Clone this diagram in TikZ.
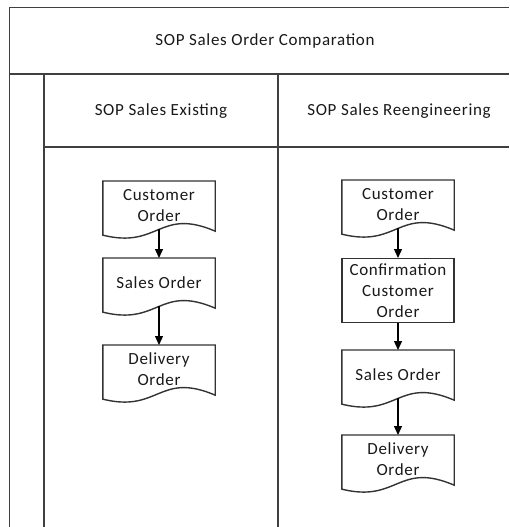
\documentclass[tikz,border=0pt]{standalone}
\usepackage{fontspec}
\setmainfont{Carlito}[LetterSpace=4]
\usetikzlibrary{arrows.meta,calc}

% outline of a flowchart "document" symbol around a named node
\newcommand\docoutline[1]{%
  \draw[black!80, line width=1.4pt, line join=miter]
    ($(#1.south west)+(0,5.75)$) -- (#1.north west) -- (#1.north east)
    -- ($(#1.south east)+(0,1.75)$)
    .. controls ($(#1.south)+(0,-22.25)$) and ($(#1.south)+(0,19.75)$)
    .. ($(#1.south west)+(0,5.75)$) -- cycle;}

\begin{document}
\begin{tikzpicture}[x=1pt,y=-1pt,
  frameline/.style={draw=black!75, line width=1.8pt},
  headtext/.style={font=\fontsize{17}{21}\selectfont, text=black!90},
  docbox/.style={minimum width=112pt, inner sep=0pt, align=center,
    anchor=north, font=\fontsize{17}{21}\selectfont, text=black!90},
  procbox/.style={docbox, draw=black!80, line width=1.4pt},
  flow/.style={draw=black, line width=1.3pt, -{Triangle[length=9pt,width=8pt]}}]

\useasboundingbox (0,0) rectangle (509,527);

% swimlane frame
\draw[frameline] (9.5,527) -- (9.5,7.5) -- (509,7.5);
\draw[frameline] (9.5,74) -- (509,74);
\draw[frameline] (44,74) -- (44,527);
\draw[frameline] (44,147) -- (509,147);
\draw[frameline] (278,74) -- (278,527);

% headings
\node[headtext] (title) at (265,41) {SOP Sales Order Comparation};
\node[headtext] (hexist) at (161,111) {SOP Sales Existing};
\node[headtext] (hreeng) at (399,111) {SOP Sales Reengineering};

% existing process
\node[docbox, minimum height=48pt] (lco) at (159,181) {Customer\\Order};
\node[docbox, minimum height=48pt] (lso) at (159,258) {Sales Order};
\node[docbox, minimum height=48pt] (ldo) at (159,345) {Delivery\\Order};
\docoutline{lco}
\docoutline{lso}
\docoutline{ldo}
\draw[flow] (lco) -- (lso);
\draw[flow] (lso) -- (ldo);

% reengineered process
\node[docbox, minimum height=48pt] (rco) at (398,180) {Customer\\Order};
\node[procbox, minimum height=64pt] (rcc) at (398,258) {Confirmation\\Customer\\Order};
\node[docbox, minimum height=48pt] (rso) at (398,350) {Sales Order};
\node[docbox, minimum height=48pt] (rdo) at (398,435) {Delivery\\Order};
\docoutline{rco}
\docoutline{rso}
\docoutline{rdo}
\draw[flow] (rco) -- (rcc);
\draw[flow] (rcc) -- (rso);
\draw[flow] (rso) -- (rdo);

\end{tikzpicture}
\end{document}
